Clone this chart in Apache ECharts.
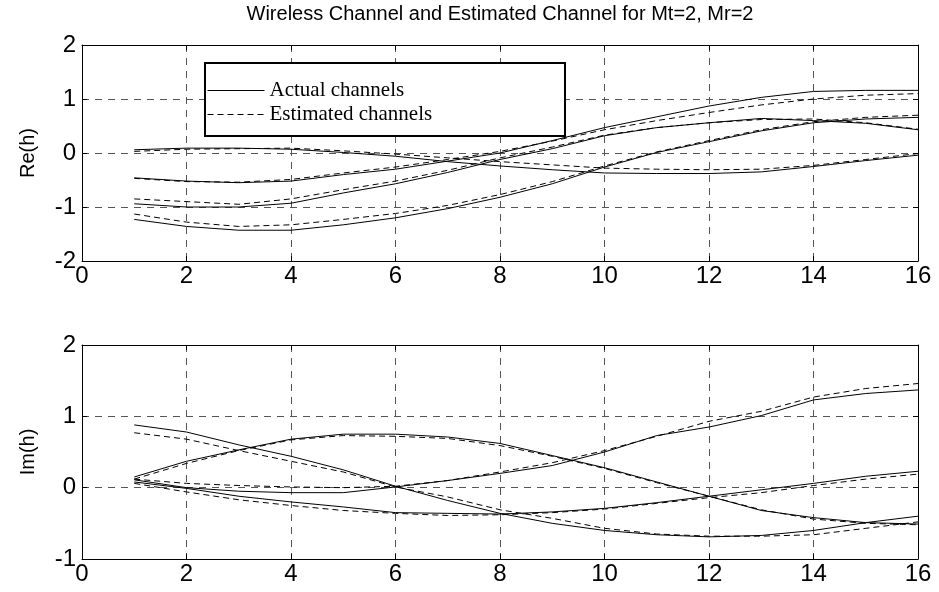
<!DOCTYPE html>
<html>
<head>
<meta charset="utf-8">
<script src="https://cdn.jsdelivr.net/npm/echarts@6/dist/echarts.min.js"></script>
<style>html,body{margin:0;padding:0;background:#fff}#c{width:939px;height:592px}</style>
</head>
<body>
<div id="c"></div>
<script>
// ---- data ----
var samples = [1,2,3,4,5,6,7,8,9,10,11,12,13,14,15,16];
var xTicks = [0,2,4,6,8,10,12,14,16];
var titleText = 'Wireless Channel and Estimated Channel for Mt=2, Mr=2';
var legendNames = ['Actual channels', 'Estimated channels'];

// Real part, actual channels (4 links)
var reActual1 = [0.06,0.09,0.09,0.07,0.01,-0.06,-0.16,-0.24,-0.31,-0.37,-0.38,-0.38,-0.35,-0.25,-0.14,-0.04];
var reActual2 = [-0.46,-0.52,-0.55,-0.52,-0.40,-0.30,-0.15,0.00,0.23,0.47,0.67,0.87,1.03,1.14,1.16,1.16];
var reActual3 = [-0.94,-1.00,-1.00,-0.93,-0.74,-0.57,-0.36,-0.12,0.08,0.32,0.47,0.56,0.64,0.60,0.55,0.43];
var reActual4 = [-1.23,-1.36,-1.43,-1.43,-1.33,-1.20,-1.03,-0.82,-0.57,-0.26,0.01,0.21,0.41,0.56,0.63,0.66];
// Real part, estimated channels
var reEst1 = [0.03,0.07,0.08,0.09,0.04,-0.02,-0.09,-0.16,-0.22,-0.28,-0.30,-0.31,-0.30,-0.23,-0.12,-0.01];
var reEst2 = [-0.47,-0.53,-0.54,-0.49,-0.37,-0.26,-0.12,0.03,0.22,0.43,0.60,0.75,0.89,1.00,1.07,1.10];
var reEst3 = [-0.85,-0.90,-0.95,-0.85,-0.68,-0.52,-0.32,-0.09,0.11,0.33,0.47,0.56,0.62,0.63,0.56,0.44];
var reEst4 = [-1.13,-1.28,-1.36,-1.33,-1.23,-1.12,-0.97,-0.77,-0.53,-0.24,0.02,0.23,0.43,0.58,0.66,0.70];

// Imaginary part, actual channels
var imActual1 = [0.88,0.78,0.60,0.44,0.25,0.02,-0.18,-0.36,-0.50,-0.60,-0.66,-0.69,-0.67,-0.60,-0.49,-0.40];
var imActual2 = [0.15,0.37,0.53,0.68,0.75,0.75,0.71,0.62,0.45,0.28,0.08,-0.12,-0.32,-0.42,-0.49,-0.51];
var imActual3 = [0.11,0.00,-0.05,-0.07,-0.07,0.01,0.10,0.20,0.31,0.50,0.73,0.85,1.01,1.23,1.32,1.37];
var imActual4 = [0.08,-0.01,-0.12,-0.20,-0.27,-0.35,-0.36,-0.37,-0.34,-0.29,-0.21,-0.12,-0.03,0.06,0.16,0.23];
// Imaginary part, estimated channels
var imEst1 = [0.77,0.68,0.52,0.37,0.22,0.01,-0.13,-0.31,-0.43,-0.57,-0.65,-0.68,-0.68,-0.66,-0.57,-0.48];
var imEst2 = [0.12,0.34,0.52,0.67,0.73,0.72,0.69,0.59,0.44,0.27,0.07,-0.12,-0.31,-0.44,-0.50,-0.52];
var imEst3 = [0.12,0.06,0.03,0.01,0.00,0.02,0.10,0.22,0.35,0.52,0.72,0.93,1.07,1.27,1.39,1.46];
var imEst4 = [0.06,-0.06,-0.17,-0.25,-0.32,-0.36,-0.39,-0.38,-0.35,-0.30,-0.22,-0.14,-0.07,0.03,0.12,0.19];

// ---- chart ----
var chart = echarts.init(document.getElementById('c'), null, {renderer: 'canvas'});
var tickFont = {fontFamily: 'Liberation Sans, Arial, sans-serif', fontSize: 24, color: '#000'};
var gridLine = {show: true, lineStyle: {color: '#555', width: 1, type: [7, 6]}};

function pairs(arr) { return samples.map(function (x, i) { return [x, arr[i]]; }); }

function xAxes(gi) {
  return [
    {gridIndex: gi, type: 'value', position: 'bottom', min: xTicks[0], max: xTicks[xTicks.length-1], interval: 2,
     axisLine: {show: true, onZero: false, lineStyle: {color: '#000', width: 1}},
     axisTick: {show: true, inside: true, length: 5, lineStyle: {color: '#000'}},
     axisLabel: Object.assign({margin: 3}, tickFont),
     splitLine: gridLine},
    {gridIndex: gi, type: 'value', position: 'top', min: xTicks[0], max: xTicks[xTicks.length-1], interval: 2,
     axisLine: {show: true, onZero: false, lineStyle: {color: '#000', width: 1}},
     axisTick: {show: true, inside: true, length: 5, lineStyle: {color: '#000'}},
     axisLabel: {show: false}, splitLine: {show: false}}
  ];
}
function yAxes(gi, mn, mx, name) {
  return [
    {gridIndex: gi, type: 'value', position: 'left', min: mn, max: mx, interval: 1,
     name: name, nameLocation: 'middle', nameGap: 44, nameRotate: 90,
     nameTextStyle: {fontFamily: 'Liberation Sans, Arial, sans-serif', fontSize: 20, color: '#000'},
     axisLine: {show: true, onZero: false, lineStyle: {color: '#000', width: 1}},
     axisTick: {show: true, inside: true, length: 5, lineStyle: {color: '#000'}},
     axisLabel: Object.assign({margin: 6}, tickFont),
     splitLine: gridLine},
    {gridIndex: gi, type: 'value', position: 'right', min: mn, max: mx, interval: 1,
     axisLine: {show: true, onZero: false, lineStyle: {color: '#000', width: 1}},
     axisTick: {show: true, inside: true, length: 5, lineStyle: {color: '#000'}},
     axisLabel: {show: false}, splitLine: {show: false}}
  ];
}
function line(name, arr, xi, yi, dashed) {
  return {
    name: name, type: 'line', xAxisIndex: xi, yAxisIndex: yi, data: pairs(arr),
    symbol: 'none', silent: true, animation: false,
    lineStyle: {color: '#000', width: 1, type: dashed ? [6, 4] : 'solid'},
    itemStyle: {color: '#000'}
  };
}

var series = [];
[reActual1, reActual2, reActual3, reActual4].forEach(function (a) { series.push(line(legendNames[0], a, 0, 0, false)); });
[reEst1, reEst2, reEst3, reEst4].forEach(function (a) { series.push(line(legendNames[1], a, 0, 0, true)); });
[imActual1, imActual2, imActual3, imActual4].forEach(function (a) { series.push(line(legendNames[0], a, 2, 2, false)); });
[imEst1, imEst2, imEst3, imEst4].forEach(function (a) { series.push(line(legendNames[1], a, 2, 2, true)); });

chart.setOption({
  animation: false,
  backgroundColor: '#fff',
  grid: [
    {left: 82, top: 45, width: 836, height: 216},
    {left: 82, top: 345, width: 836, height: 214}
  ],
  xAxis: xAxes(0).concat(xAxes(1)),
  yAxis: yAxes(0, -2, 2, 'Re(h)').concat(yAxes(1, -1, 2, 'Im(h)')),
  legend: {
    data: legendNames, orient: 'vertical', left: 207, top: 80, padding: 0,
    itemWidth: 57, itemHeight: 14, itemGap: 3, selectedMode: false, z: 10,
    itemStyle: {opacity: 0},
    lineStyle: {width: 1},
    textStyle: {fontFamily: 'Liberation Serif, Times New Roman, serif', fontSize: 21, color: '#000'}
  },
  graphic: [
    {type: 'rect', z: 5, shape: {x: 205, y: 63, width: 360, height: 73},
     style: {fill: '#fff', stroke: '#000', lineWidth: 2}},
    {type: 'text', z: 5, x: 500, y: 14,
     style: {text: titleText, fontFamily: 'Liberation Sans, Arial, sans-serif', fontSize: 20, fill: '#000',
             textAlign: 'center', textVerticalAlign: 'middle'}}
  ],
  series: series
});
</script>
</body>
</html>
